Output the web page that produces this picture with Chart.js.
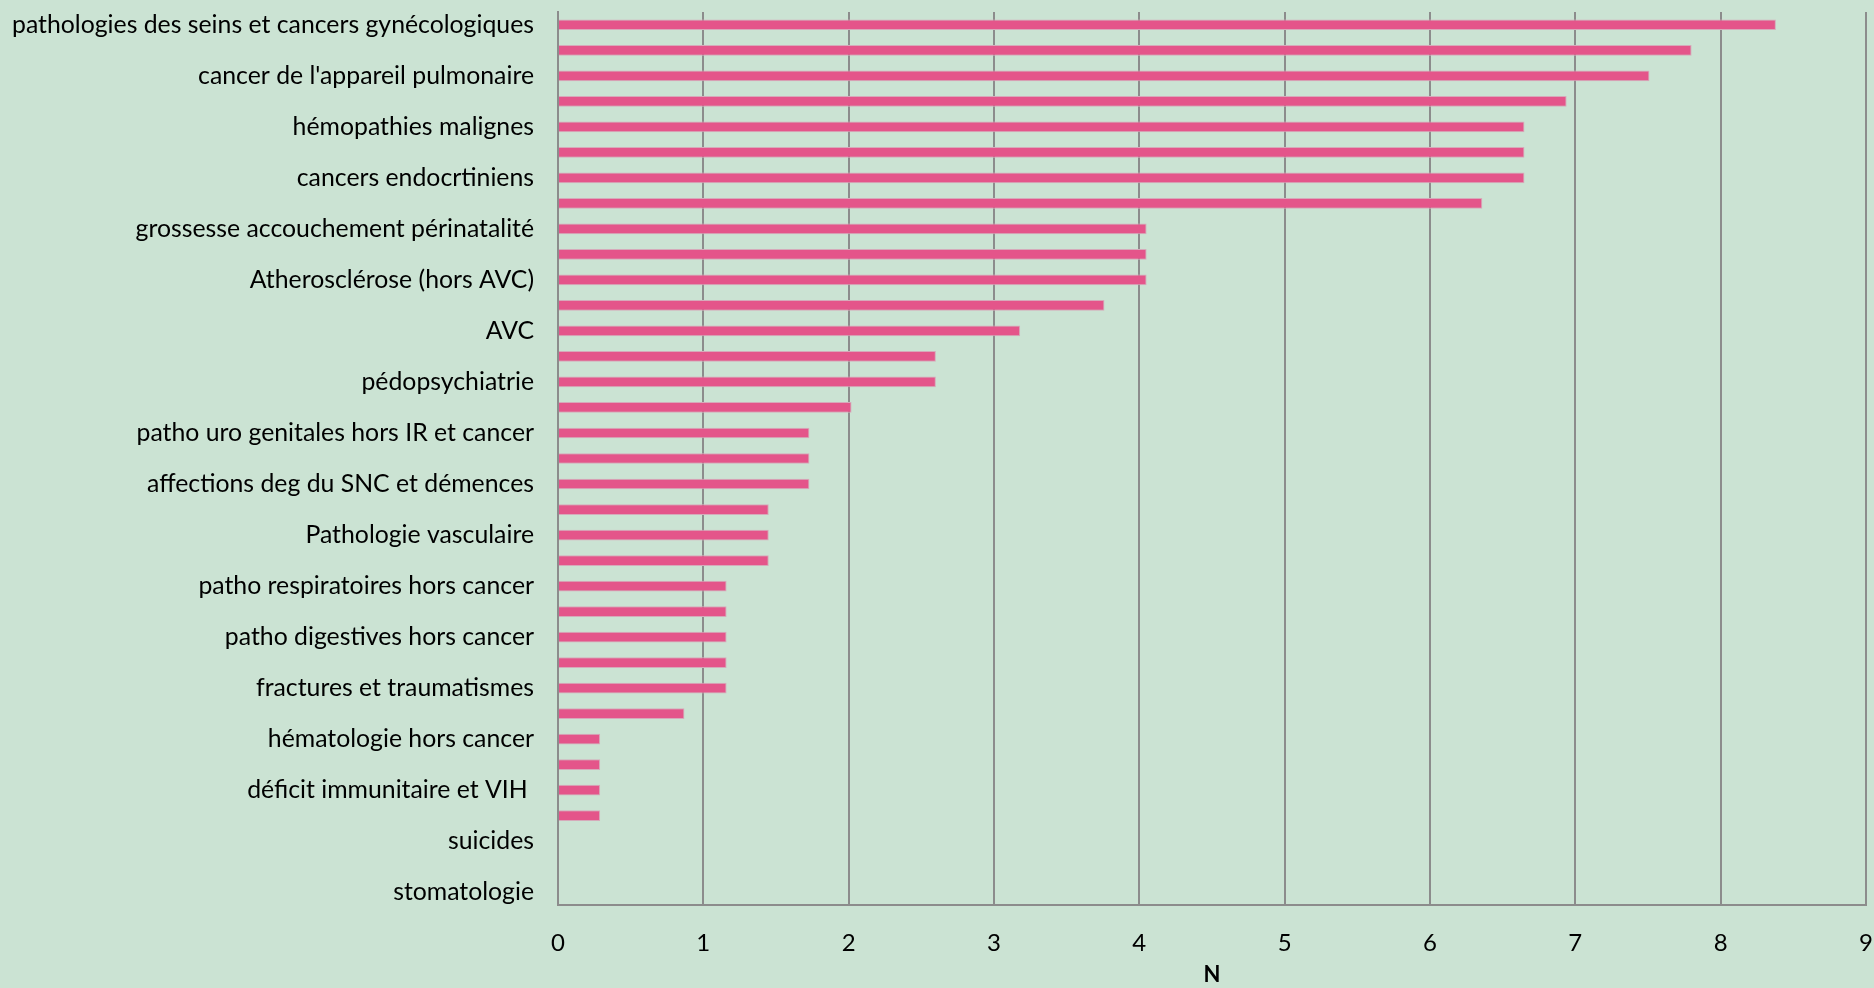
<!DOCTYPE html>
<html>
<head>
<meta charset="utf-8">
<script src="https://cdn.jsdelivr.net/npm/chart.js@4.4.0/dist/chart.umd.min.js"></script>
<style>
  body { margin: 0; background: #cbe3d3; overflow: hidden; }
  #wrap { width: 1874px; height: 988px; }
</style>
</head>
<body>
<div id="wrap"><canvas id="mychart"></canvas></div>
<script>
// categories (only every other name is printed on the original chart)
const categories = [
  "pathologies des seins et cancers gynécologiques", "",
  "cancer de l'appareil pulmonaire", "",
  "hémopathies malignes", "",
  "cancers endocrtiniens", "",
  "grossesse accouchement périnatalité", "",
  "Atherosclérose (hors AVC)", "",
  "AVC", "",
  "pédopsychiatrie", "",
  "patho uro genitales hors IR et cancer", "",
  "affections deg du SNC et démences", "",
  "Pathologie vasculaire", "",
  "patho respiratoires hors cancer", "",
  "patho digestives hors cancer", "",
  "fractures et traumatismes", "",
  "hématologie hors cancer", "",
  "déficit immunitaire et VIH ", "",
  "suicides", "",
  "stomatologie",
];

// N values
const values = [
  8.38, 7.80, 7.51, 6.94, 6.65, 6.65, 6.65, 6.36,
  4.05, 4.05, 4.05, 3.76, 3.18, 2.60, 2.60, 2.02,
  1.73, 1.73, 1.73, 1.45, 1.45, 1.45, 1.16, 1.16,
  1.16, 1.16, 1.16, 0.87, 0.29, 0.29, 0.29, 0.29,
  0, 0, 0,
];

const xTicks = [0, 1, 2, 3, 4, 5, 6, 7, 8, 9];

const fontFamily = "Lato, 'Open Sans', sans-serif";
const gridColor = "#8c8c8c";

// no automatic padding from the tick labels, the layout padding decides
function noPadding(scale) {
  scale.paddingTop = 0;
  scale.paddingBottom = 0;
  scale.paddingLeft = 0;
  scale.paddingRight = 0;
}

const ctx = document.getElementById("mychart").getContext("2d");

let myChart = new Chart(ctx, {
  type: "bar",
  data: {
    labels: categories,
    datasets: [
      {
        data: values,
        backgroundColor: "rgb(228, 85, 138)",
        borderColor: "rgb(214, 170, 186)",
        borderWidth: 1,
        barPercentage: 0.42,
        categoryPercentage: 1,
      },
    ],
  },
  options: {
    indexAxis: "y",
    responsive: true,
    maintainAspectRatio: false,
    animation: false,
    layout: { padding: { top: 12, right: 8, bottom: 0, left: 0 } },
    plugins: {
      legend: { display: false },
      tooltip: { enabled: false },
    },
    scales: {
      x: {
        min: 0,
        max: 9,
        afterBuildTicks: (scale) => {
          scale.ticks = xTicks.map((v) => ({ value: v }));
        },
        afterFit: (scale) => {
          scale.height = 83;
          noPadding(scale);
        },
        grid: { color: gridColor, lineWidth: 2, drawTicks: false },
        border: { color: gridColor, width: 2 },
        ticks: {
          color: "#000",
          padding: 24,
          font: { family: fontFamily, size: 24 },
        },
        title: {
          display: true,
          text: "N",
          color: "#000",
          padding: { top: 8, bottom: 0 },
          font: { family: fontFamily, size: 22, weight: "bold" },
        },
      },
      y: {
        afterFit: (scale) => {
          scale.width = 558;
          noPadding(scale);
        },
        grid: { display: false, drawTicks: false },
        border: { color: gridColor, width: 2 },
        ticks: {
          autoSkip: false,
          color: "#000",
          padding: 24,
          font: { family: fontFamily, size: 24.8 },
        },
      },
    },
  },
});
</script>
</body>
</html>
